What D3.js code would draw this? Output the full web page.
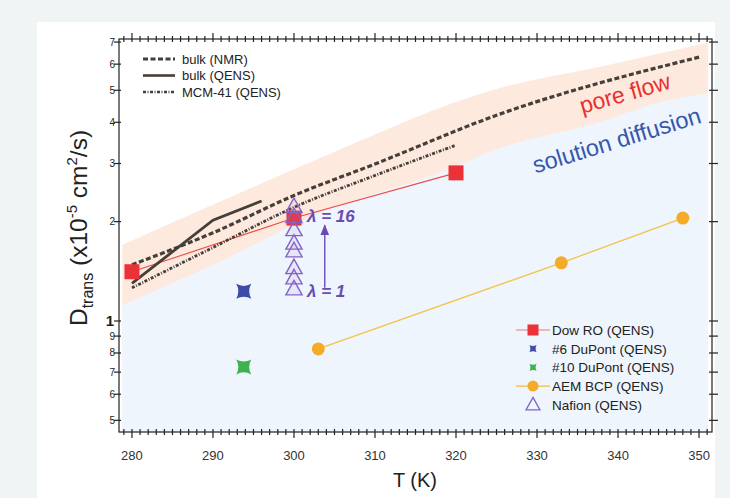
<!DOCTYPE html>
<html><head><meta charset="utf-8">
<script src="https://cdn.jsdelivr.net/npm/d3@7"></script>
<style>
body{margin:0;background:#f1f4f5;}
svg{display:block;font-family:Arial,"Liberation Sans",sans-serif;}
</style></head>
<body>
<svg id="c" width="730" height="498"></svg>
<script>
// ---- data ----
const xTickValues = [280, 290, 300, 310, 320, 330, 340, 350];
const yMajorLabels = [0.5, 0.6, 0.7, 0.8, 0.9, 1, 2, 3, 4, 5, 6, 7];

const nmrT = [280, 290, 300, 310, 325, 350];
const nmrD = [1.48, 1.85, 2.40, 2.99, 4.20, 6.30];
const qensT = [280, 290, 296];
const qensD = [1.30, 2.02, 2.31];
const mcmT = [280, 290, 300, 310, 320];
const mcmD = [1.26, 1.67, 2.21, 2.76, 3.41];

const dowT = [280, 300, 320];
const dowD = [1.41, 2.05, 2.81];
const dup6T = [293.8], dup6D = [1.23];
const dup10T = [293.8], dup10D = [0.726];
const aemT = [303, 333, 348];
const aemD = [0.823, 1.50, 2.05];
const nafionT = 300;
const nafionD = [2.22, 2.07, 1.89, 1.72, 1.63, 1.45, 1.35, 1.25];
const arrowT = 303.8, arrowD = [1.26, 1.95];

// regime boundaries
const bandT = [278.8, 290.2, 302.6, 318.9, 325.4, 337.8, 345.2, 351.1];
const blueTopD = [1.118, 1.488, 2.096, 2.87, 3.34, 4.01, 4.61, 4.91];
const peachT = [278.8, 290.2, 302.6, 325.4, 337.8, 351.1];
const peachTopD = [1.70, 2.26, 3.07, 5.08, 5.89, 6.96];

// ---- scales ----
const svg = d3.select("#c");
const x = d3.scaleLinear().domain([278.4, 351.6]).range([119, 712]);
const y = d3.scaleLog().domain([0.461, 7.15]).range([432, 39]);
const X0 = x.range()[0], X1 = x.range()[1], Y0 = y.range()[0], Y1 = y.range()[1];

// panel
svg.append("rect").attr("x", 37).attr("y", 22).attr("width", 678).attr("height", 476).attr("fill", "#ffffff");

// regions
const bottomD = y.domain()[0];
const regionArea = d3.area().curve(d3.curveMonotoneX).x(d => x(d[0])).y0(y(bottomD)).y1(d => y(d[1]));
svg.append("path").datum(peachT.map((t, i) => [t, peachTopD[i]]))
  .attr("d", regionArea).attr("fill", "#fde9de");
svg.append("path").datum(bandT.map((t, i) => [t, blueTopD[i]]))
  .attr("d", regionArea).attr("fill", "#eef5fc");

// ---- axes frame ----
const axisColor = "#222";
const g = svg.append("g").attr("stroke", axisColor).attr("stroke-width", 1.2).attr("fill", "none");
g.append("rect").attr("x", X0).attr("y", Y1).attr("width", X1 - X0).attr("height", Y0 - Y1);

const minorT = d3.range(279, 352, 1);
minorT.forEach(t => {
  const major = t % 10 === 0;
  g.append("line").attr("x1", x(t)).attr("x2", x(t)).attr("y1", Y0 - 3).attr("y2", Y0 + (major ? 6 : 3));
  g.append("line").attr("x1", x(t)).attr("x2", x(t)).attr("y1", Y1 + 3).attr("y2", Y1 - (major ? 6 : 3));
});
yMajorLabels.forEach(v => {
  g.append("line").attr("x1", X0 - 5).attr("x2", X0 + 2).attr("y1", y(v)).attr("y2", y(v));
  g.append("line").attr("x1", X1 - 3).attr("x2", X1 + 6).attr("y1", y(v)).attr("y2", y(v));
});

// x tick labels
svg.append("g").selectAll("text").data(xTickValues).join("text")
  .attr("x", d => x(d)).attr("y", 460).attr("text-anchor", "middle")
  .attr("font-size", 13).attr("fill", "#333").text(d => d);
// y tick labels
svg.append("g").selectAll("text").data(yMajorLabels).join("text")
  .attr("x", d => d === 1 ? 114 : 115).attr("y", d => y(d) + (d === 1 ? 5 : 3.5))
  .attr("text-anchor", "end")
  .attr("font-size", d => d === 1 ? 15 : 10)
  .attr("font-weight", d => d === 1 ? "bold" : "normal")
  .attr("fill", "#222")
  .text(d => d < 1 ? Math.round(d * 10) : d);

// axis titles
svg.append("text").attr("x", 415).attr("y", 487).attr("text-anchor", "middle")
  .attr("font-size", 20).attr("fill", "#222").text("T (K)");
const yt = svg.append("text").attr("transform", "translate(87,228) rotate(-90)")
  .attr("text-anchor", "middle").attr("font-size", 24.5).attr("fill", "#222");
yt.append("tspan").text("D");
yt.append("tspan").attr("font-size", 16).attr("dy", 6).text("trans");
yt.append("tspan").attr("dy", -6).text(" (x10");
yt.append("tspan").attr("font-size", 15).attr("dy", -10).text("-5");
yt.append("tspan").attr("dy", 10).text(" cm");
yt.append("tspan").attr("font-size", 15).attr("dy", -10).text("2");
yt.append("tspan").attr("dy", 10).text("/s)");

// region labels
svg.append("text").attr("transform", "translate(627,101) rotate(-16)")
  .attr("text-anchor", "middle").attr("font-size", 23).attr("fill", "#e8302e").text("pore flow");
svg.append("text").attr("transform", "translate(619,148) rotate(-17)")
  .attr("text-anchor", "middle").attr("font-size", 23.5).attr("fill", "#3657ad").text("solution diffusion");

// ---- lines ----
const lineGen = d3.line().x(d => x(d[0])).y(d => y(d[1]));
const smoothGen = d3.line().curve(d3.curveMonotoneX).x(d => x(d[0])).y(d => y(d[1]));
const zipT = (T, D) => T.map((t, i) => [t, D[i]]);
const lineColor = "#453f3a";
svg.append("path").datum(zipT(dowT, dowD)).attr("d", lineGen)
  .attr("fill", "none").attr("stroke", "#ef4a45").attr("stroke-width", 1.1);
svg.append("path").datum(zipT(aemT, aemD)).attr("d", lineGen)
  .attr("fill", "none").attr("stroke", "#f2c447").attr("stroke-width", 1.3);
svg.append("path").datum(zipT(nmrT, nmrD)).attr("d", smoothGen)
  .attr("fill", "none").attr("stroke", lineColor).attr("stroke-width", 3.2).attr("stroke-dasharray", "5,2.5");
svg.append("path").datum(zipT(mcmT, mcmD)).attr("d", smoothGen)
  .attr("fill", "none").attr("stroke", lineColor).attr("stroke-width", 2.8).attr("stroke-dasharray", "3,1.5,1,1.5");
svg.append("path").datum(zipT(qensT, qensD)).attr("d", lineGen)
  .attr("fill", "none").attr("stroke", lineColor).attr("stroke-width", 2.8);

// ---- markers ----
const starPath = r => `M${-r},${-r}Q0,${-r * 0.45} ${r},${-r}Q${r * 0.45},0 ${r},${r}Q0,${r * 0.45} ${-r},${r}Q${-r * 0.45},0 ${-r},${-r}Z`;
const triPath = s => `M0,${-s * 0.62}L${s * 0.58},${s * 0.42}L${-s * 0.58},${s * 0.42}Z`;

svg.append("g").selectAll("rect").data(zipT(dowT, dowD)).join("rect")
  .attr("x", d => x(d[0]) - 7.5).attr("y", d => y(d[1]) - 7.5).attr("width", 15).attr("height", 15)
  .attr("fill", "#ea3238");
svg.append("g").selectAll("path").data(zipT(dup6T, dup6D)).join("path")
  .attr("transform", d => `translate(${x(d[0])},${y(d[1])})`).attr("d", starPath(7.5)).attr("fill", "#3b4da6");
svg.append("g").selectAll("path").data(zipT(dup10T, dup10D)).join("path")
  .attr("transform", d => `translate(${x(d[0])},${y(d[1])})`).attr("d", starPath(7.5)).attr("fill", "#3fb24f");
svg.append("g").selectAll("circle").data(zipT(aemT, aemD)).join("circle")
  .attr("cx", d => x(d[0])).attr("cy", d => y(d[1])).attr("r", 6.5).attr("fill", "#f5ab2a");
svg.append("g").selectAll("path").data(nafionD).join("path")
  .attr("transform", d => `translate(${x(nafionT)},${y(d)})`).attr("d", triPath(14))
  .attr("fill", "#a77fd6").attr("fill-opacity", 0.12)
  .attr("stroke", "#8563c4").attr("stroke-width", 1.4);

// arrow + lambda labels
const purple = "#6a4bb3";
svg.append("defs").append("marker").attr("id", "ah").attr("viewBox", "0 0 10 10")
  .attr("refX", 9).attr("refY", 5).attr("markerWidth", 8).attr("markerHeight", 8).attr("orient", "auto")
  .append("path").attr("d", "M0,1L10,5L0,9Z").attr("fill", purple);
svg.append("line").attr("x1", x(arrowT)).attr("x2", x(arrowT)).attr("y1", y(arrowD[0])).attr("y2", y(arrowD[1]))
  .attr("stroke", purple).attr("stroke-width", 1.4).attr("marker-end", "url(#ah)");
svg.append("text").attr("x", x(nafionT) + 13).attr("y", y(nafionD[1]) + 5)
  .attr("font-size", 17).attr("font-weight", "bold").attr("font-style", "italic").attr("fill", purple).text("λ = 16");
svg.append("text").attr("x", x(nafionT) + 13).attr("y", y(nafionD[7]) + 8)
  .attr("font-size", 17).attr("font-weight", "bold").attr("font-style", "italic").attr("fill", purple).text("λ = 1");

// ---- legends ----
const leg1 = [
  {label: "bulk (NMR)", dash: "5,2.5", w: 3},
  {label: "bulk (QENS)", dash: null, w: 2.6},
  {label: "MCM-41 (QENS)", dash: "3,1.5,1,1.5", w: 2.4}
];
leg1.forEach((d, i) => {
  const yy = 59 + i * 16.5;
  svg.append("line").attr("x1", 143).attr("x2", 175).attr("y1", yy).attr("y2", yy)
    .attr("stroke", lineColor).attr("stroke-width", d.w).attr("stroke-dasharray", d.dash);
  svg.append("text").attr("x", 182).attr("y", yy + 4.5).attr("font-size", 13).attr("fill", "#222").text(d.label);
});

const leg2 = ["Dow RO (QENS)", "#6 DuPont (QENS)", "#10 DuPont (QENS)", "AEM BCP (QENS)", "Nafion (QENS)"];
leg2.forEach((label, i) => {
  const yy = 330 + i * 18.7, cx = 533;
  if (i === 0) {
    svg.append("line").attr("x1", 516).attr("x2", 550).attr("y1", yy).attr("y2", yy).attr("stroke", "#e67a78").attr("stroke-width", 1.2);
    svg.append("rect").attr("x", cx - 5.5).attr("y", yy - 5.5).attr("width", 11).attr("height", 11).attr("fill", "#ea3238");
  } else if (i === 1 || i === 2) {
    svg.append("path").attr("transform", `translate(${cx},${yy})`).attr("d", starPath(3.6))
      .attr("fill", i === 1 ? "#3b4da6" : "#3fb24f");
  } else if (i === 3) {
    svg.append("line").attr("x1", 516).attr("x2", 550).attr("y1", yy).attr("y2", yy).attr("stroke", "#f2b93a").attr("stroke-width", 1.2);
    svg.append("circle").attr("cx", cx).attr("cy", yy).attr("r", 5.5).attr("fill", "#f5ab2a");
  } else {
    svg.append("path").attr("transform", `translate(${cx},${yy})`).attr("d", triPath(12))
      .attr("fill", "none").attr("stroke", "#8563c4").attr("stroke-width", 1.3);
  }
  svg.append("text").attr("x", 552).attr("y", yy + 5).attr("font-size", 13.5).attr("fill", "#222").text(label);
});
</script>
</body></html>
